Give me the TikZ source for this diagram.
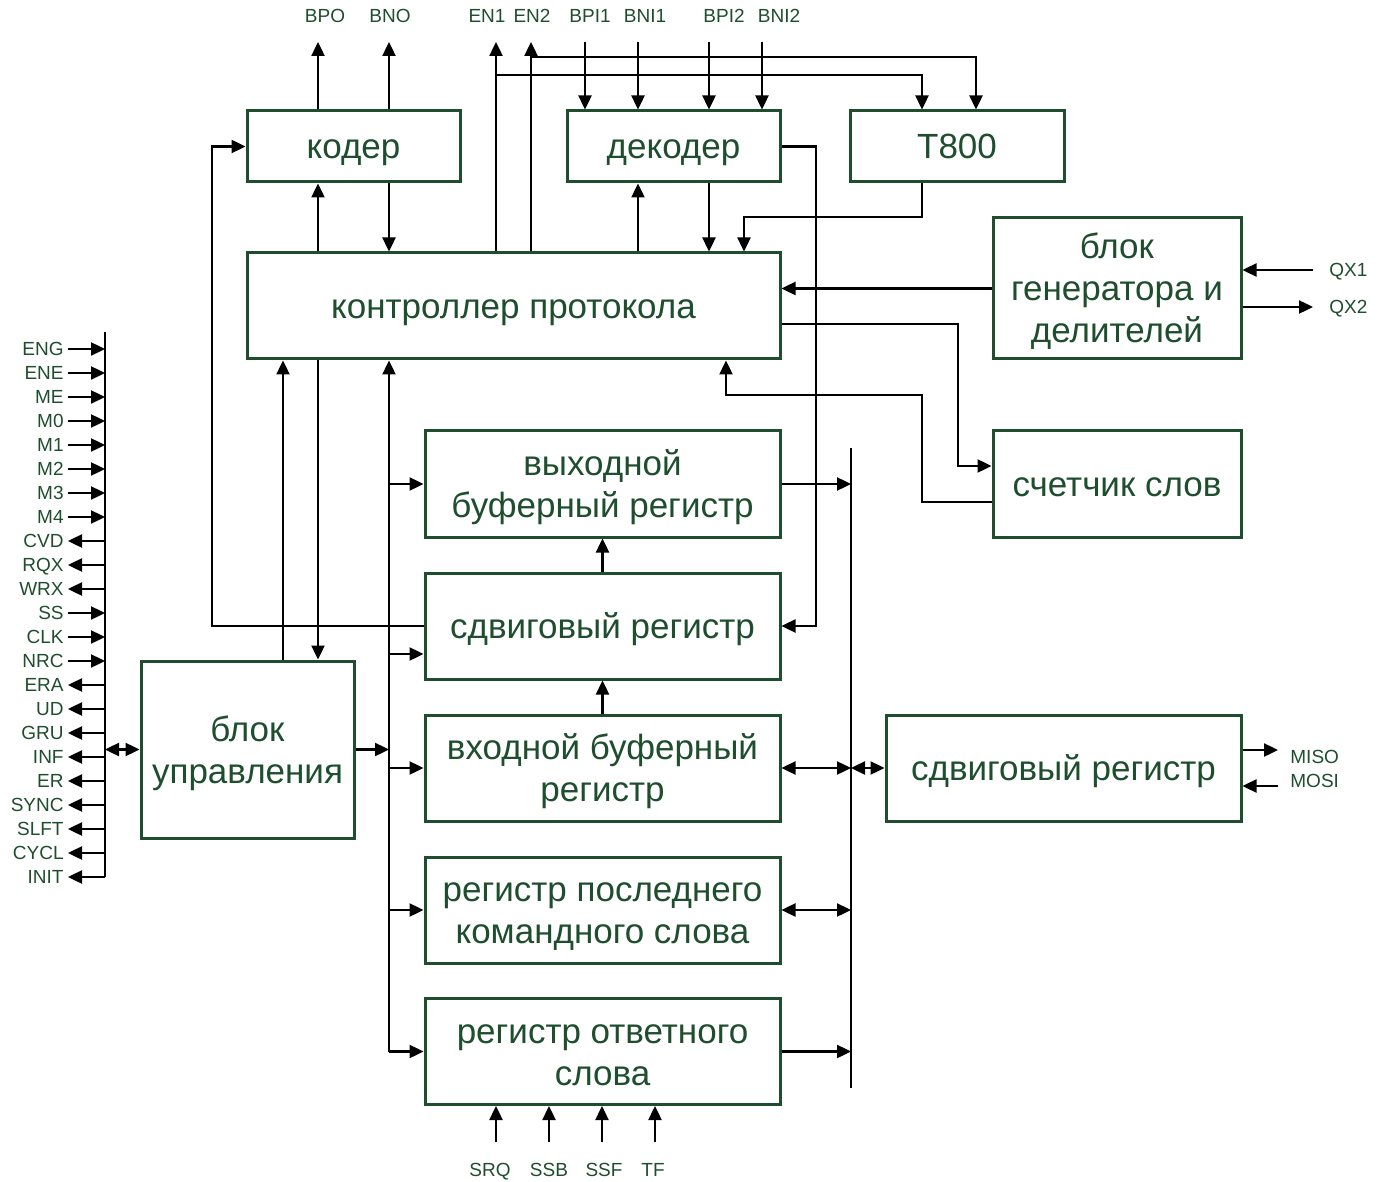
\documentclass[tikz,border=0pt]{standalone}
\usepackage{fontspec}
\setmainfont{Liberation Sans}
\usetikzlibrary{positioning}
\usetikzlibrary{arrows.meta}
\definecolor{boxgreen}{RGB}{30,78,45}

\begin{document}
\begin{tikzpicture}[
    x=0.5pt, y=-0.5pt,
    blk/.style={
        draw=boxgreen,
        line width=1.5pt,
        text=boxgreen,
        align=center,
        font=\fontsize{17.5}{21}\selectfont,
        inner sep=0pt,
    },
    one/.style={text height=12.5pt,text depth=0pt},
    two/.style={text height=33.5pt,text depth=0pt},
    three/.style={text height=54.5pt,text depth=0pt},
    sm/.style={blk,one,minimum width=106.5pt,minimum height=35.5pt},
    reg/.style={blk,minimum width=177.5pt,minimum height=53pt},
    lbl/.style={
        text=boxgreen,
        font=\fontsize{9.5}{11}\selectfont,
        inner sep=0pt,
        text height=6.8pt,
        text depth=0pt,
    },
    wire/.style={line width=1.2pt},
    arr/.style={wire,-{Triangle[length=7pt,width=6.5pt]}},
    darr/.style={wire,{Triangle[length=7pt,width=6.5pt]}-{Triangle[length=7pt,width=6.5pt]}},
    sigin/.style={-{Triangle[length=7pt,width=6.5pt]}},
    sigout/.style={{Triangle[length=7pt,width=6.5pt]}-},
]
    \useasboundingbox (0,0) rectangle (1388,1182);
    % ~~~ blocks ~~~~~~~~~~~~
    \node[sm] (kod) at (353.5,146.5) {кодер};
    \node[sm] (dek) at (673.5,146.5) {декодер};
    \node[sm,minimum width=107pt] (tv) at (957,146.5) {T800};
    \node[blk,one,minimum width=266.5pt,minimum height=53pt] (kp) at (513.5,306) {контроллер протокола};
    \node[blk,three,minimum width=124pt,minimum height=70.5pt] (gen) at (1117,288.5) {блок\\генератора и\\делителей};
    \node[blk,one,minimum width=124pt,minimum height=53pt] (sch) at (1117,484) {счетчик слов};
    \node[reg,two] (vyh) at (602.5,484) {выходной\\буферный регистр};
    \node[reg,one] (sdv) at (602.5,626) {сдвиговый регистр};
    \node[reg,two] (vh) at (602.5,768) {входной буферный\\регистр};
    \node[reg,two] (rpk) at (602.5,910) {регистр последнего\\командного слова};
    \node[reg,two] (ro) at (602.5,1051.5) {регистр ответного\\слова};
    \node[blk,two,minimum width=106.5pt,minimum height=88.5pt] (bu) at (247.5,749.5) {блок\\управления};
    \node[reg,one] (sdr) at (1063.5,768) {сдвиговый регистр};

    % ~~~ columns and turning points ~~~~~~~~~~~~
    \coordinate (xa) at (283,0);
    \coordinate (xb) at (318,0);
    \coordinate (xc) at (389,0);
    \coordinate (kl) at (212,0);
    \coordinate (dr) at (816,0);
    \coordinate (t1) at (922,0);
    \coordinate (t2) at (976,0);
    \coordinate (tk) at (744,217);
    \coordinate (j1) at (496,75);
    \coordinate (j2) at (531,57);

    % ~~~ top signals ~~~~~~~~~~~~
    \foreach \xx/\sname/\lx in {318/BPO/325,389/BNO/390}{
        \coordinate (o-\sname) at (\xx,42);
        \draw[arr] (kod.north -| o-\sname) -- (o-\sname);
        \node[lbl] (l-\sname) at (\lx,16) {\sname};
    }
    \foreach \xx/\sname/\lx in {496/EN1/487,531/EN2/532}{
        \coordinate (o-\sname) at (\xx,42);
        \draw[arr] (kp.north -| o-\sname) -- (o-\sname);
        \node[lbl] (l-\sname) at (\lx,16) {\sname};
    }
    \foreach \xx/\sname/\lx in {585/BPI1/590,638/BNI1/645,709/BPI2/724,762/BNI2/779}{
        \coordinate (o-\sname) at (\xx,42);
        \draw[arr] (o-\sname) -- (dek.north -| o-\sname);
        \node[lbl] (l-\sname) at (\lx,16) {\sname};
    }
    \draw[arr] (j1) -| (tv.north -| t1);
    \draw[arr] (j2) -| (tv.north -| t2);

    % ~~~ coder / decoder / T800 to controller ~~~~~~~~~~~~
    \draw[arr] (kp.north -| xb) -- (kod.south -| xb);
    \draw[arr] (kod.south -| xc) -- (kp.north -| xc);
    \draw[arr] (kp.north -| o-BNI1) -- (dek.south -| o-BNI1);
    \draw[arr] (dek.south -| o-BPI2) -- (kp.north -| o-BPI2);
    \draw[arr] (tv.south -| t1) |- (tk) -- (kp.north -| tk);
    \draw[arr] (dek.east) -- (dek.east -| dr) |- (sdv.east);
    \draw[arr] (gen.west) -- (gen.west -| kp.east);

    % ~~~ word counter ~~~~~~~~~~~~
    \coordinate (ks1) at (958,324);
    \coordinate (ks2) at (958,466);
    \draw[arr] (kp.east |- ks1) -- (ks1) -- (ks2) -- (sch.west |- ks2);
    \coordinate (sk1) at (922,502);
    \coordinate (sk2) at (922,395);
    \coordinate (sk3) at (726,395);
    \draw[arr] (sch.west |- sk1) -- (sk1) -- (sk2) -- (sk3) -- (kp.south -| sk3);

    % ~~~ clock and spi pins ~~~~~~~~~~~~
    \coordinate (qx1) at (1313,270);
    \coordinate (qx2) at (1313,307);
    \draw[arr] (qx1) -- (gen.east |- qx1);
    \draw[arr] (gen.east |- qx2) -- (qx2);
    \node[lbl,anchor=west] (l-qx1) at (1329,270) {QX1};
    \node[lbl,anchor=west] (l-qx2) at (1329,307) {QX2};
    \coordinate (miso) at (1278,750);
    \coordinate (mosi) at (1278,786);
    \draw[arr] (sdr.east |- miso) -- (miso);
    \draw[arr] (mosi) -- (sdr.east |- mosi);
    \node[lbl,anchor=west] (l-miso) at (1290,757) {MISO};
    \node[lbl,anchor=west] (l-mosi) at (1290,781) {MOSI};

    % ~~~ control unit and inner bus ~~~~~~~~~~~~
    \draw[arr] (bu.north -| xa) -- (kp.south -| xa);
    \draw[arr] (kp.south -| xb) -- (bu.north -| xb);
    \draw[arr] (sdv.west) -- (sdv.west -| kl) |- (kod.west);
    \coordinate (ibb) at (389,1051.5);
    \coordinate (sdvin) at (389,654);
    \draw[arr] (ibb) -- (kp.south -| ibb);
    \draw[arr] (vyh.west -| ibb) -- (vyh.west);
    \draw[arr] (sdvin) -- (sdv.west |- sdvin);
    \draw[arr] (vh.west -| ibb) -- (vh.west);
    \draw[arr] (rpk.west -| ibb) -- (rpk.west);
    \draw[arr] (ibb) -- (ro.west);
    \draw[arr] (bu.east) -- (bu.east -| ibb);
    \draw[arr] (sdv.north) -- (vyh.south);
    \draw[arr] (vh.north) -- (sdv.south);

    % ~~~ right bus ~~~~~~~~~~~~
    \coordinate (rbt) at (851,448);
    \coordinate (rbb) at (851,1088);
    \draw[wire] (rbt) -- (rbb);
    \draw[arr] (vyh.east) -- (vyh.east -| rbt);
    \draw[darr] (vh.east) -- (vh.east -| rbt);
    \draw[darr] (vh.east -| rbt) -- (sdr.west);
    \draw[darr] (rpk.east) -- (rpk.east -| rbt);
    \draw[arr] (ro.east) -- (ro.east -| rbt);

    % ~~~ status inputs ~~~~~~~~~~~~
    \foreach \xx/\sname/\lx in {496/SRQ/490,549/SSB/549,602/SSF/604,655/TF/653}{
        \coordinate (i-\sname) at (\xx,1142);
        \draw[arr] (i-\sname) -- (ro.south -| i-\sname);
        \node[lbl] (l-\sname) at (\lx,1170) {\sname};
    }

    % ~~~ left pin bus ~~~~~~~~~~~~
    \coordinate (lbt) at (105,332);
    \coordinate (lbb) at (105,877);
    \draw[wire] (lbt) -- (lbb);
    \foreach \sname/\dir [count=\k from 0] in {ENG/in,ENE/in,ME/in,M0/in,M1/in,M2/in,M3/in,M4/in,
        CVD/out,RQX/out,WRX/out,SS/in,CLK/in,NRC/in,ERA/out,UD/out,GRU/out,INF/out,
        ER/out,SYNC/out,SLFT/out,CYCL/out,INIT/out}{
        \node[lbl,anchor=east,inner xsep=2pt] (s-\sname) at (68,{349+24*\k}) {\sname};
        \coordinate (b-\sname) at (105,{349+24*\k});
        \draw[wire,sig\dir] (s-\sname.east) -- (b-\sname);
    }
    \coordinate (lbm) at (105,749.5);
    \draw[darr] (lbm) -- (bu.west);
\end{tikzpicture}
\end{document}
